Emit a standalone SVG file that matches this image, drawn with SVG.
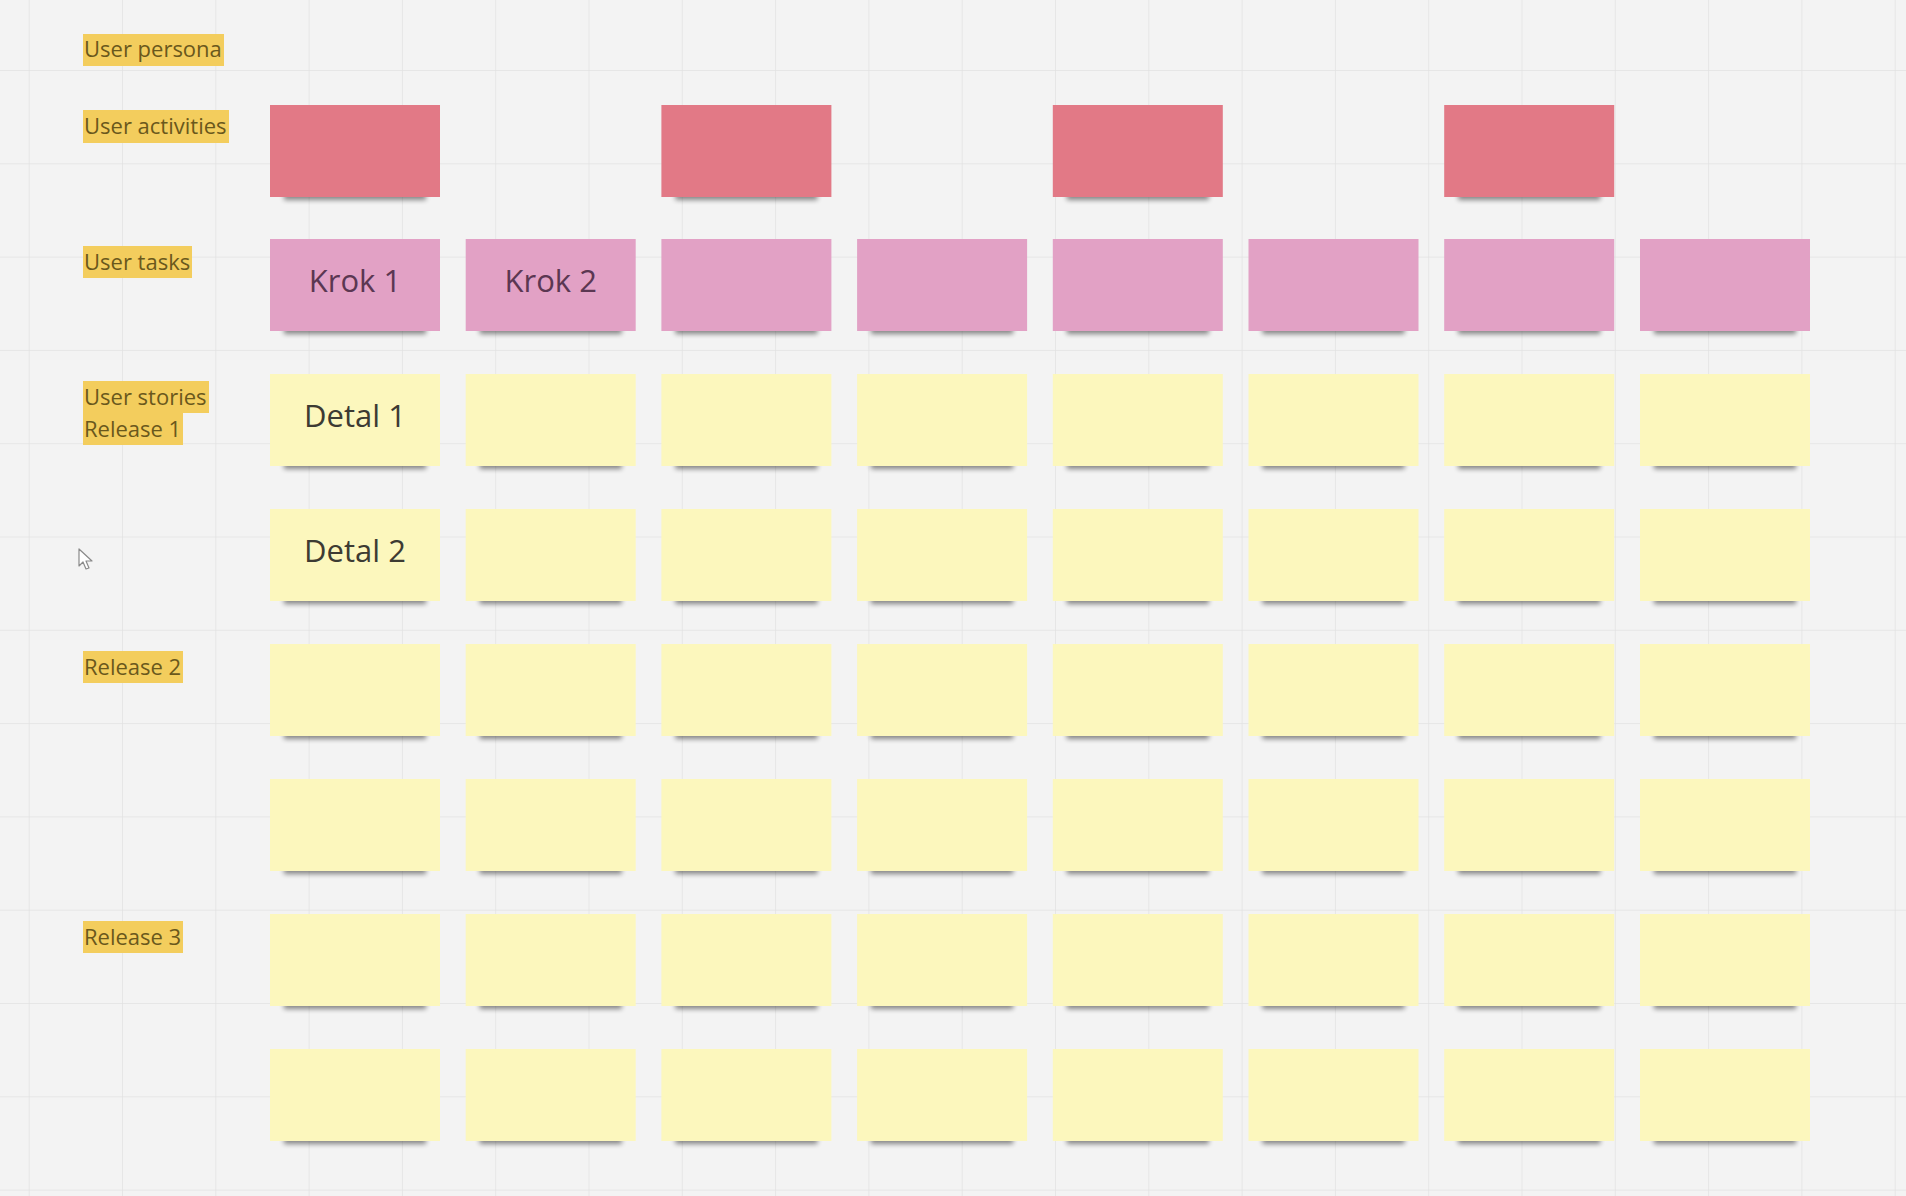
<svg xmlns="http://www.w3.org/2000/svg" xmlns:xlink="http://www.w3.org/1999/xlink" width="1906" height="1196" viewBox="0 0 1906 1196">
<style>
.lbl{fill:#f3cd5d}
.lt{font-family:"Open Sans","Liberation Sans",sans-serif;font-size:22px;fill:#6a581c}
.nt{font-family:"Open Sans","Liberation Sans",sans-serif;font-size:31px;text-anchor:middle}
.kt{fill:#5b3752}
.dt{fill:#3d3b33}
</style>
<defs>
<pattern id="grid" x="122" y="70" width="93.3" height="93.3" patternUnits="userSpaceOnUse">
<path d="M0 0H93.3M0 0V93.3" fill="none" stroke="#e2e2e2" stroke-width="1.5"/>
</pattern>
<filter id="blur" x="-20%" y="-200%" width="140%" height="500%"><feGaussianBlur stdDeviation="2.5"/></filter>
<rect id="shadow" x="14" y="87" width="142" height="8" fill="#000" opacity="0.45" filter="url(#blur)"/>
<g id="act"><use xlink:href="#shadow"/><rect width="170" height="92" fill="#e27986"/></g>
<g id="task"><use xlink:href="#shadow"/><rect width="170" height="92" fill="#e2a1c5"/></g>
<g id="story"><use xlink:href="#shadow"/><rect width="170" height="92" fill="#fcf7bd"/></g>
</defs>
<rect width="1906" height="1196" fill="#f3f3f3"/>
<rect width="1906" height="1196" fill="url(#grid)"/>

<g id="labels">
<g id="lbl-persona"><rect class="lbl" x="83" y="34" width="141" height="32"/><text class="lt" x="84" y="57">User persona</text></g>
<g id="lbl-activities"><rect class="lbl" x="83" y="110" width="146" height="33"/><text class="lt" x="84" y="134">User activities</text></g>
<g id="lbl-tasks"><rect class="lbl" x="83" y="246" width="109" height="32"/><text class="lt" x="84" y="270">User tasks</text></g>
<g id="lbl-stories"><rect class="lbl" x="83" y="381" width="126" height="32"/><rect class="lbl" x="83" y="412" width="100" height="33"/><text class="lt" x="84" y="405">User stories</text><text class="lt" x="84" y="437">Release 1</text></g>
<g id="lbl-release2"><rect class="lbl" x="83" y="651" width="100" height="32"/><text class="lt" x="84" y="675">Release 2</text></g>
<g id="lbl-release3"><rect class="lbl" x="83" y="921" width="100" height="32"/><text class="lt" x="84" y="945">Release 3</text></g>
</g>

<g id="activities">
<g id="act-1"><use xlink:href="#act" x="270" y="105"/></g>
<g id="act-2"><use xlink:href="#act" x="661.4" y="105"/></g>
<g id="act-3"><use xlink:href="#act" x="1052.8" y="105"/></g>
<g id="act-4"><use xlink:href="#act" x="1444.2" y="105"/></g>
</g>

<g id="tasks">
<g id="task-1"><use xlink:href="#task" x="270" y="239"/><text class="nt kt" x="355" y="292">Krok 1</text></g>
<g id="task-2"><use xlink:href="#task" x="465.7" y="239"/><text class="nt kt" x="550.7" y="292">Krok 2</text></g>
<g id="task-3"><use xlink:href="#task" x="661.4" y="239"/></g>
<g id="task-4"><use xlink:href="#task" x="857.1" y="239"/></g>
<g id="task-5"><use xlink:href="#task" x="1052.8" y="239"/></g>
<g id="task-6"><use xlink:href="#task" x="1248.5" y="239"/></g>
<g id="task-7"><use xlink:href="#task" x="1444.2" y="239"/></g>
<g id="task-8"><use xlink:href="#task" x="1640" y="239"/></g>
</g>

<g id="stories">
<g id="s-1-1"><use xlink:href="#story" x="270" y="374"/><text class="nt dt" x="355" y="427">Detal 1</text></g>
<g id="s-1-2"><use xlink:href="#story" x="465.7" y="374"/></g>
<g id="s-1-3"><use xlink:href="#story" x="661.4" y="374"/></g>
<g id="s-1-4"><use xlink:href="#story" x="857.1" y="374"/></g>
<g id="s-1-5"><use xlink:href="#story" x="1052.8" y="374"/></g>
<g id="s-1-6"><use xlink:href="#story" x="1248.5" y="374"/></g>
<g id="s-1-7"><use xlink:href="#story" x="1444.2" y="374"/></g>
<g id="s-1-8"><use xlink:href="#story" x="1640" y="374"/></g>

<g id="s-2-1"><use xlink:href="#story" x="270" y="509"/><text class="nt dt" x="355" y="562">Detal 2</text></g>
<g id="s-2-2"><use xlink:href="#story" x="465.7" y="509"/></g>
<g id="s-2-3"><use xlink:href="#story" x="661.4" y="509"/></g>
<g id="s-2-4"><use xlink:href="#story" x="857.1" y="509"/></g>
<g id="s-2-5"><use xlink:href="#story" x="1052.8" y="509"/></g>
<g id="s-2-6"><use xlink:href="#story" x="1248.5" y="509"/></g>
<g id="s-2-7"><use xlink:href="#story" x="1444.2" y="509"/></g>
<g id="s-2-8"><use xlink:href="#story" x="1640" y="509"/></g>

<g id="s-3-1"><use xlink:href="#story" x="270" y="644"/></g>
<g id="s-3-2"><use xlink:href="#story" x="465.7" y="644"/></g>
<g id="s-3-3"><use xlink:href="#story" x="661.4" y="644"/></g>
<g id="s-3-4"><use xlink:href="#story" x="857.1" y="644"/></g>
<g id="s-3-5"><use xlink:href="#story" x="1052.8" y="644"/></g>
<g id="s-3-6"><use xlink:href="#story" x="1248.5" y="644"/></g>
<g id="s-3-7"><use xlink:href="#story" x="1444.2" y="644"/></g>
<g id="s-3-8"><use xlink:href="#story" x="1640" y="644"/></g>

<g id="s-4-1"><use xlink:href="#story" x="270" y="779"/></g>
<g id="s-4-2"><use xlink:href="#story" x="465.7" y="779"/></g>
<g id="s-4-3"><use xlink:href="#story" x="661.4" y="779"/></g>
<g id="s-4-4"><use xlink:href="#story" x="857.1" y="779"/></g>
<g id="s-4-5"><use xlink:href="#story" x="1052.8" y="779"/></g>
<g id="s-4-6"><use xlink:href="#story" x="1248.5" y="779"/></g>
<g id="s-4-7"><use xlink:href="#story" x="1444.2" y="779"/></g>
<g id="s-4-8"><use xlink:href="#story" x="1640" y="779"/></g>

<g id="s-5-1"><use xlink:href="#story" x="270" y="914"/></g>
<g id="s-5-2"><use xlink:href="#story" x="465.7" y="914"/></g>
<g id="s-5-3"><use xlink:href="#story" x="661.4" y="914"/></g>
<g id="s-5-4"><use xlink:href="#story" x="857.1" y="914"/></g>
<g id="s-5-5"><use xlink:href="#story" x="1052.8" y="914"/></g>
<g id="s-5-6"><use xlink:href="#story" x="1248.5" y="914"/></g>
<g id="s-5-7"><use xlink:href="#story" x="1444.2" y="914"/></g>
<g id="s-5-8"><use xlink:href="#story" x="1640" y="914"/></g>

<g id="s-6-1"><use xlink:href="#story" x="270" y="1049"/></g>
<g id="s-6-2"><use xlink:href="#story" x="465.7" y="1049"/></g>
<g id="s-6-3"><use xlink:href="#story" x="661.4" y="1049"/></g>
<g id="s-6-4"><use xlink:href="#story" x="857.1" y="1049"/></g>
<g id="s-6-5"><use xlink:href="#story" x="1052.8" y="1049"/></g>
<g id="s-6-6"><use xlink:href="#story" x="1248.5" y="1049"/></g>
<g id="s-6-7"><use xlink:href="#story" x="1444.2" y="1049"/></g>
<g id="s-6-8"><use xlink:href="#story" x="1640" y="1049"/></g>
</g>

<g id="connectors"></g>

<g id="cursor">
<path d="M79 549 L79 566 L83 562 L86 569 L89 568 L86 561 L92 561 Z" fill="#ffffff" stroke="#8a8a8a" stroke-width="1.2" stroke-linejoin="round"/>
</g>
</svg>
